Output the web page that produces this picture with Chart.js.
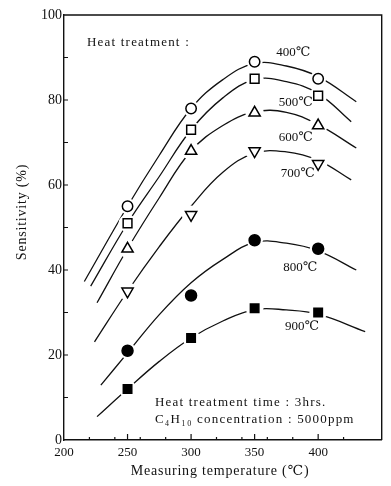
<!DOCTYPE html>
<html>
<head>
<meta charset="utf-8">
<script src="https://cdn.jsdelivr.net/npm/chart.js@4.4.1/dist/chart.umd.min.js"></script>
<style>
  html, body { margin: 0; padding: 0; background: #ffffff; }
  #wrap { width: 391px; height: 486px; }
</style>
</head>
<body>
<div id="wrap"><canvas id="c" width="391" height="486"></canvas></div>
<script>
// ---- measured points (markers) ----
const temps = [250, 300, 350, 400];
const sens400 = [55, 78, 89, 85];
const sens500 = [51, 73, 85, 81];
const sens600 = [45, 68, 77, 74];
const sens700 = [35, 53, 68, 65];
const sens800 = [21, 34, 47, 45];
const sens900 = [12, 24, 31, 30];

// ---- hand-drawn fitted curves ----
const curveX400 = [216, 250, 275, 300, 325, 350, 375, 400, 430];
const curveY400 = [37.3, 55, 67, 78, 84.8, 88.6, 88.0, 85.5, 79.6];
const curveX500 = [221, 250, 275, 300, 325, 350, 375, 400, 426];
const curveY500 = [36.2, 51, 62, 73, 80.5, 84.8, 84.3, 81.5, 74.9];
const curveX600 = [226, 250, 275, 300, 325, 350, 375, 400, 430];
const curveY600 = [32.3, 45, 57, 68, 74, 77.2, 77.1, 74.2, 68.7];
const curveX700 = [224, 250, 275, 300, 325, 350, 375, 400, 426];
const curveY700 = [23.1, 35, 45.5, 55, 63, 67.5, 67.8, 65.8, 61.2];
const curveX800 = [229, 250, 275, 300, 325, 350, 375, 400, 430];
const curveY800 = [12.9, 20.5, 29.5, 37, 42.5, 46.5, 46.3, 44.5, 40];
const curveX900 = [226, 250, 275, 300, 325, 350, 375, 400, 437];
const curveY900 = [5.5, 12, 18.5, 24, 28, 30.7, 30.6, 29.6, 25.5];

// ---- series names / tick values ----
const seriesNames = ['400℃', '500℃', '600℃', '700℃', '800℃', '900℃'];
const xLabelTicks = [200, 250, 300, 350, 400];
const xMajorTicks = [250, 300, 350, 400];
const xMinorTicks = [220, 240, 260, 280, 320, 340, 360, 380, 420];
const yLabelTicks = [0, 20, 40, 60, 80, 100];
const yMinorTicks = [10, 20, 30, 40, 50, 60, 70, 80, 90];

// label anchors in data units (temperature, sensitivity)
const nameAnchors = [[367, 91.1], [369, 79.5], [369, 71.1], [370.5, 62.8], [372.5, 40.5], [374, 26.6]];

const markerVals = [sens400, sens500, sens600, sens700, sens800, sens900];
const curveXs = [curveX400, curveX500, curveX600, curveX700, curveX800, curveX900];
const curveYs = [curveY400, curveY500, curveY600, curveY700, curveY800, curveY900];

const markerStyle = [
  { pointStyle: 'circle', radius: 5.2, fill: '#ffffff', rot: 0 },
  { pointStyle: 'rect', radius: 6.2, fill: '#ffffff', rot: 0 },
  { pointStyle: 'triangle', radius: 6.5, fill: '#ffffff', rot: 0 },
  { pointStyle: 'triangle', radius: 6.5, fill: '#ffffff', rot: 180 },
  { pointStyle: 'circle', radius: 5.5, fill: '#000000', rot: 0 },
  { pointStyle: 'rect', radius: 6, fill: '#000000', rot: 0 }
];

const SERIF = '"Liberation Serif", "DejaVu Serif", serif';
const datasets = [];
markerVals.forEach((vals, i) => {
  const st = markerStyle[i];
  datasets.push({
    label: seriesNames[i] + ' pts',
    data: temps.map((t, k) => ({ x: t, y: vals[k] })),
    showLine: false,
    pointStyle: st.pointStyle,
    pointRadius: st.radius,
    pointRotation: st.rot,
    pointBackgroundColor: st.fill,
    pointBorderColor: '#000000',
    pointBorderWidth: 1.5,
    order: 0
  });
  datasets.push({
    label: seriesNames[i] + ' halo',
    data: temps.map((t, k) => ({ x: t, y: vals[k] })),
    showLine: false,
    pointStyle: 'circle',
    pointRadius: st.radius + 2.8,
    pointBackgroundColor: '#ffffff',
    pointBorderWidth: 0,
    pointBorderColor: '#ffffff',
    order: 1
  });
  datasets.push({
    label: seriesNames[i],
    data: curveXs[i].map((x, k) => ({ x: x, y: curveYs[i][k] })),
    borderColor: '#111111',
    borderWidth: 1.3,
    pointRadius: 0,
    tension: 0.4,
    fill: false,
    order: 2
  });
});

const decor = {
  id: 'decor',
  afterDraw(chart) {
    const ctx = chart.ctx;
    const a = chart.chartArea;
    const xs = chart.scales.x, ys = chart.scales.y;
    ctx.save();
    ctx.strokeStyle = '#111111';
    ctx.lineWidth = 1.4;
    ctx.beginPath();
    ctx.moveTo(a.left, a.top); ctx.lineTo(a.right, a.top); ctx.lineTo(a.right, a.bottom);
    ctx.stroke();
    ctx.lineWidth = 1.2;
    ctx.beginPath();
    yMinorTicks.forEach(v => { const y = ys.getPixelForValue(v); ctx.moveTo(a.left, y); ctx.lineTo(a.left + 4, y); });
    xMajorTicks.forEach(v => { const x = xs.getPixelForValue(v); ctx.moveTo(x, a.bottom); ctx.lineTo(x, a.bottom - 6); });
    xMinorTicks.forEach(v => { const x = xs.getPixelForValue(v); ctx.moveTo(x, a.bottom); ctx.lineTo(x, a.bottom - 3); });
    ctx.stroke();

    ctx.fillStyle = '#111111';
    ctx.textBaseline = 'middle';
    ctx.textAlign = 'left';
    ctx.font = '13px ' + SERIF;
    seriesNames.forEach((n, i) => {
      ctx.fillText(n, xs.getPixelForValue(nameAnchors[i][0]), ys.getPixelForValue(nameAnchors[i][1]));
    });
    ctx.letterSpacing = '1.2px';
    ctx.font = '13px ' + SERIF;
    ctx.fillText('Heat treatment :', 87, 43);
    ctx.fillText('Heat treatment time : 3hrs.', 155, 403);
    ctx.fillText('C₄H₁₀ concentration : 5000ppm', 155, 420);

    ctx.font = '14px ' + SERIF;
    ctx.letterSpacing = '0.8px';
    ctx.textAlign = 'center';
    ctx.fillText('Measuring temperature (℃)', 220, 471);
    ctx.translate(22, 212);
    ctx.rotate(-Math.PI / 2);
    ctx.fillText('Sensitivity (%)', 0, 0);
    ctx.restore();
  }
};

new Chart(document.getElementById('c'), {
  type: 'line',
  data: { datasets: datasets },
  options: {
    responsive: false,
    animation: false,
    layout: { padding: { left: 0, top: 15, right: 7, bottom: 0 } },
    plugins: { legend: { display: false }, tooltip: { enabled: false } },
    scales: {
      x: {
        type: 'linear', min: 200, max: 450,
        afterFit(s) { s.height = 46; },
        afterBuildTicks(s) { s.ticks = xLabelTicks.map(v => ({ value: v })); },
        grid: { display: false, drawTicks: false },
        border: { display: true, color: '#111111', width: 1.4 },
        ticks: { color: '#111111', font: { family: SERIF, size: 13 }, padding: 5, maxRotation: 0, autoSkip: false }
      },
      y: {
        type: 'linear', min: 0, max: 100,
        afterFit(s) { s.width = 64; },
        afterBuildTicks(s) { s.ticks = yLabelTicks.map(v => ({ value: v })); },
        grid: { display: false, drawTicks: false },
        border: { display: true, color: '#111111', width: 1.4 },
        ticks: { color: '#111111', font: { family: SERIF, size: 14 }, padding: 2, autoSkip: false }
      }
    }
  },
  plugins: [decor]
});
</script>
</body>
</html>
